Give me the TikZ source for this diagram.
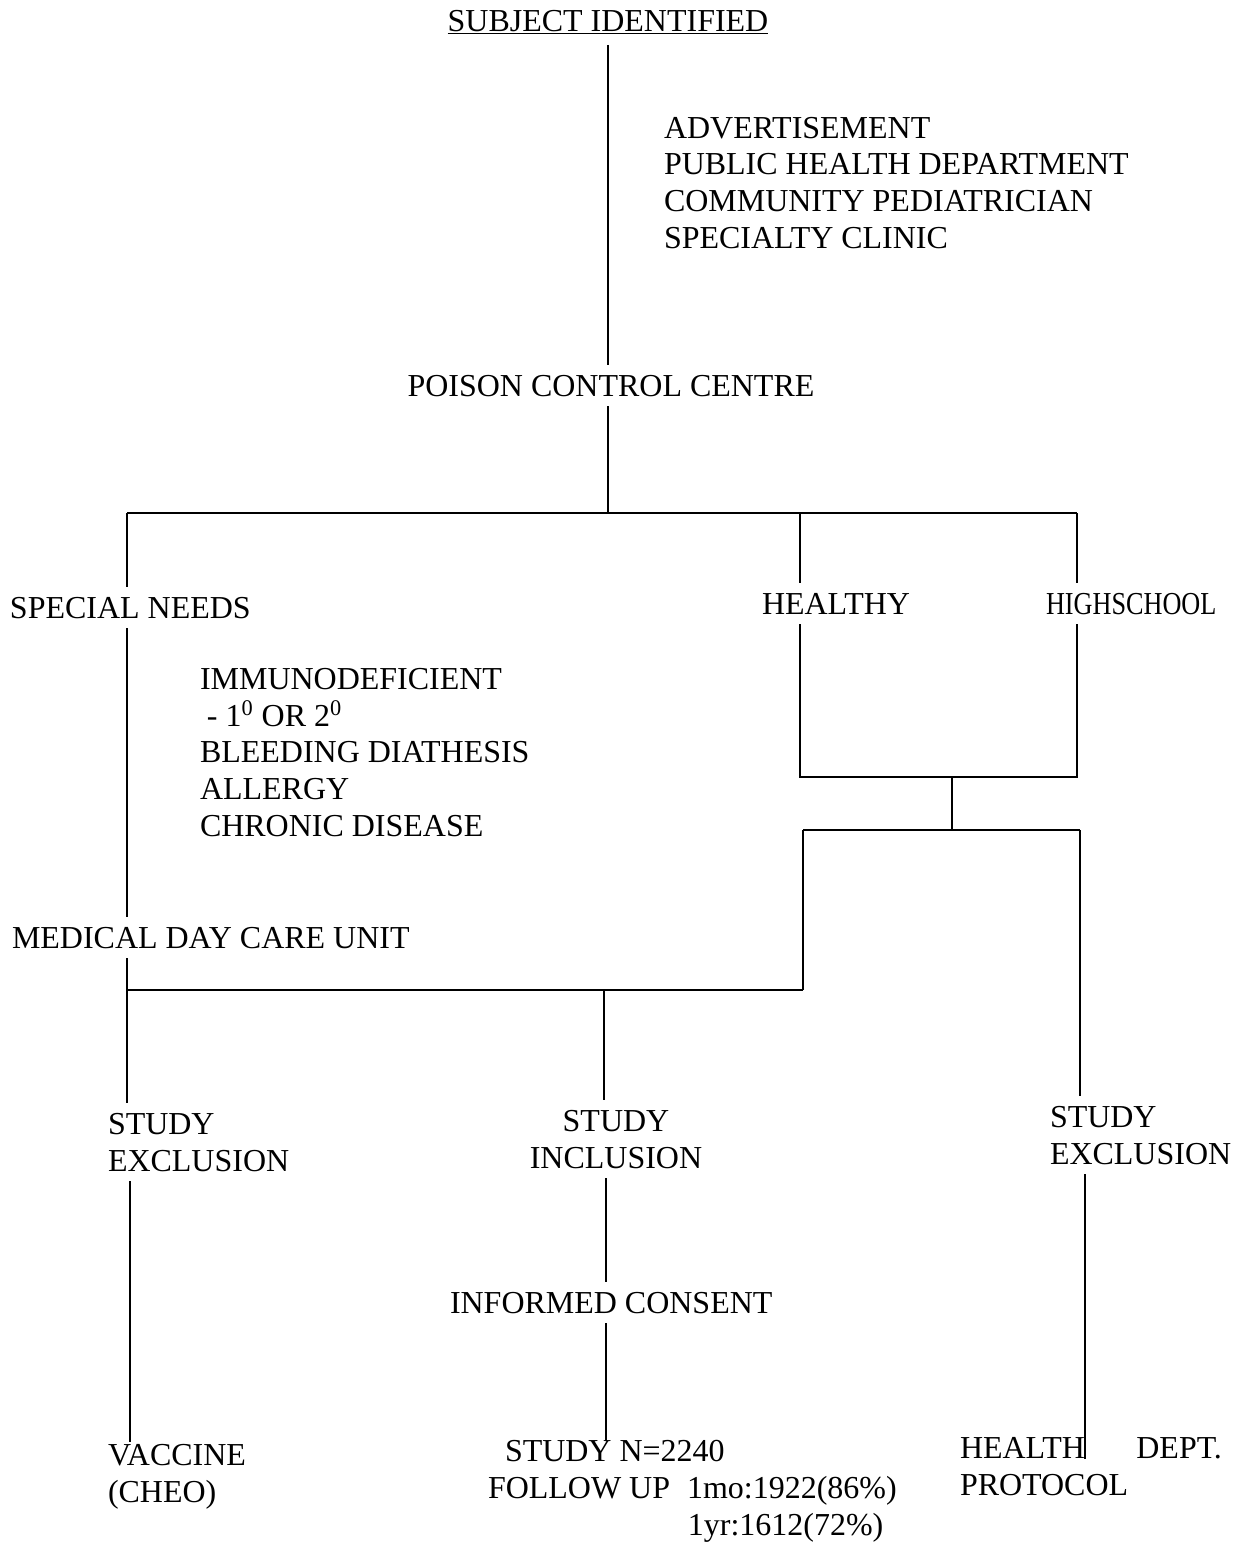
\documentclass[tikz,border=0pt]{standalone}
\usepackage{fontspec}
\setmainfont{Liberation Serif}
\usetikzlibrary{positioning}
\tikzset{
    lbl/.style={inner sep=0pt, outer xsep=0pt, outer ysep=0.2cm, align=left, anchor=base west, font=\fontsize{18.2}{20.8}\selectfont},
    link/.style={line width=1.3pt},
    bar/.style={line width=1.6pt}
}

\begin{document}
\begin{tikzpicture}[x=0.02cm, y=-0.02cm]
    \useasboundingbox (0,0) rectangle (1236,1543);

    % Referral (multi-line nodes sit on their last baseline)
    \node[lbl, anchor=base] (subj) at (608,31) {\underline{SUBJECT IDENTIFIED}};
    \node[lbl] (sources) at (664,248) {ADVERTISEMENT\\PUBLIC HEALTH DEPARTMENT\\COMMUNITY PEDIATRICIAN\\SPECIALTY CLINIC};
    \node[lbl, anchor=base] (poison) at (611,396) {POISON CONTROL CENTRE};

    % Groups
    \node[lbl] (special) at (10,618) {SPECIAL NEEDS};
    \node[lbl] (healthy) at (762,614) {HEALTHY};
    \node[lbl] (highschool) at (1046,614) {\scalebox{0.82}[1]{HIGHSCHOOL}};
    \node[lbl] (conditions) at (200,836) {IMMUNODEFICIENT\\\hspace*{0.14cm}- 1\textsuperscript{0} OR 2\textsuperscript{0}\\BLEEDING DIATHESIS\\ALLERGY\\CHRONIC DISEASE};
    \node[lbl] (medical) at (12,948) {MEDICAL DAY CARE UNIT};

    % Outcomes
    \node[lbl] (exclL) at (108,1171) {STUDY\\EXCLUSION};
    \node[lbl, anchor=base, align=center] (inclusion) at (616,1168) {STUDY\\INCLUSION};
    \node[lbl] (exclR) at (1050,1164) {STUDY\\EXCLUSION};
    \node[lbl] (consent) at (450,1313) {INFORMED CONSENT};
    \node[lbl] (vaccine) at (108,1502) {VACCINE\\(CHEO)};
    \node[lbl] (studyN) at (488,1535) {\hspace*{0.34cm}STUDY N=2240\\FOLLOW UP\hspace{0.34cm}1mo:1922(86\%)\\\hspace*{4cm}1yr:1612(72\%)};
    \node[lbl] (healthdept) at (960,1495) {\makebox[5.24cm][l]{HEALTH\hfill DEPT.}\\PROTOCOL};

    % Junctions
    \coordinate (topM) at (608,513);
    \coordinate (topL) at (127,513);
    \coordinate (topH) at (800,513);
    \coordinate (topR) at (1077,513);
    \coordinate (hB) at (800,777);
    \coordinate (hsB) at (1077,777);
    \coordinate (midB) at (952,777);
    \coordinate (midC) at (952,830);
    \coordinate (mL) at (803,830);
    \coordinate (mR) at (1080,830);
    \coordinate (botR) at (803,990);
    \coordinate (botL) at (127,990);
    \coordinate (inclJ) at (604,990);
    \coordinate (colL) at (130,0);
    \coordinate (colC) at (606,0);
    \coordinate (colR) at (1085,0);

    % Connectors
    \draw[link] (subj.south) -- (subj.south |- poison.north);
    \draw[link] (topM |- poison.south) -- (topM);
    \draw[bar] (topL) -- (topR);
    \draw[link] (topL) -- (topL |- special.north);
    \draw[link] (topL |- special.south) -- (topL |- medical.north);
    \draw[link] (topH) -- (topH |- healthy.north);
    \draw[link] (topR) -- (topR |- highschool.north);
    \draw[link] (hB |- healthy.south) -- (hB) -- (hsB) -- (hsB |- highschool.south);
    \draw[link] (midB) -- (midC);
    \draw[bar] (mR) -- (mL);
    \draw[link] (mL) -- (botR);
    \draw[bar] (botR) -- (botL);
    \draw[link] (topL |- medical.south) -- (topL |- exclL.north);
    \draw[link] (inclJ) -- (inclJ |- inclusion.north);
    \draw[link] (mR) -- (mR |- exclR.north);
    \draw[link, shorten >=-0.16cm] (colL |- exclL.south) -- (colL |- vaccine.north);
    \draw[link] (colC |- inclusion.south) -- (colC |- consent.north);
    \draw[link, shorten >=-0.2cm] (colC |- consent.south) -- (colC |- studyN.north);
    \draw[link, shorten >=-0.64cm] (colR |- exclR.south) -- (colR |- healthdept.north);
\end{tikzpicture}
\end{document}
